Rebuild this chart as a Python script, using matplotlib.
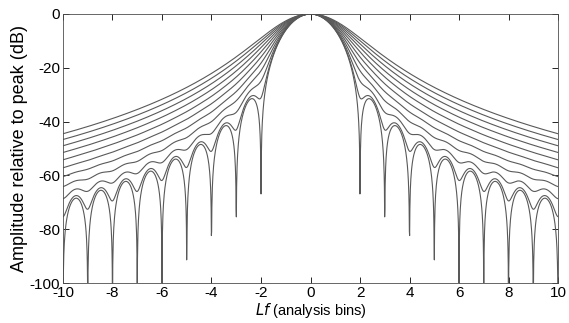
import numpy as np
import matplotlib
matplotlib.use("Agg")
import matplotlib.pyplot as plt

# Hann window applied to an exponentially decaying sinusoid:
# total decay across the window in dB (0 dB = plain Hann transform)
decay_db = [0, 9, 18, 27, 36, 45, 54, 63, 72, 81, 90]
x_ticks = [-10, -8, -6, -4, -2, 0, 2, 4, 6, 8, 10]
y_ticks = [-100, -80, -60, -40, -20, 0]

plt.rcParams['font.family'] = ['Liberation Sans', 'DejaVu Sans']
plt.rcParams['axes.unicode_minus'] = False

fig = plt.figure(figsize=(5.69, 3.23), dpi=100)
ax = fig.add_axes([0.1107, 0.1238, 0.8700, 0.8329])

t = np.linspace(0.0, 1.0, 2001)
dt = t[1] - t[0]
step = 0.0099865
n = int(np.ceil(10.2 / step))
x = np.arange(-n, n + 1) * step
E = np.exp(-2j * np.pi * np.outer(x, t))
hann = 0.5 * (1 - np.cos(2 * np.pi * t))
for d in decay_db:
    a = d / 20 * np.log(10)
    w = hann * np.exp(-a * t)
    W = np.abs(E @ w) * dt
    db = 20 * np.log10(np.maximum(W / W.max(), 1e-12))
    ax.plot(x, db, color='0.35', lw=0.8)

ax.set_xlim(-10, 10)
ax.set_ylim(-100, 0)
ax.set_xticks(x_ticks)
ax.set_yticks(y_ticks)
ax.tick_params(direction='in', top=True, right=True, labelsize=11, length=4, width=0.6, pad=2)
for s in ax.spines.values():
    s.set_linewidth(0.6)
    s.set_color('0.3')
ax.set_xlabel(r'$\mathit{Lf}$ (analysis bins)', fontsize=10.5, labelpad=1)
ax.set_ylabel('Amplitude relative to peak (dB)', fontsize=13, labelpad=1)

fig.savefig('out.png', dpi=100)
